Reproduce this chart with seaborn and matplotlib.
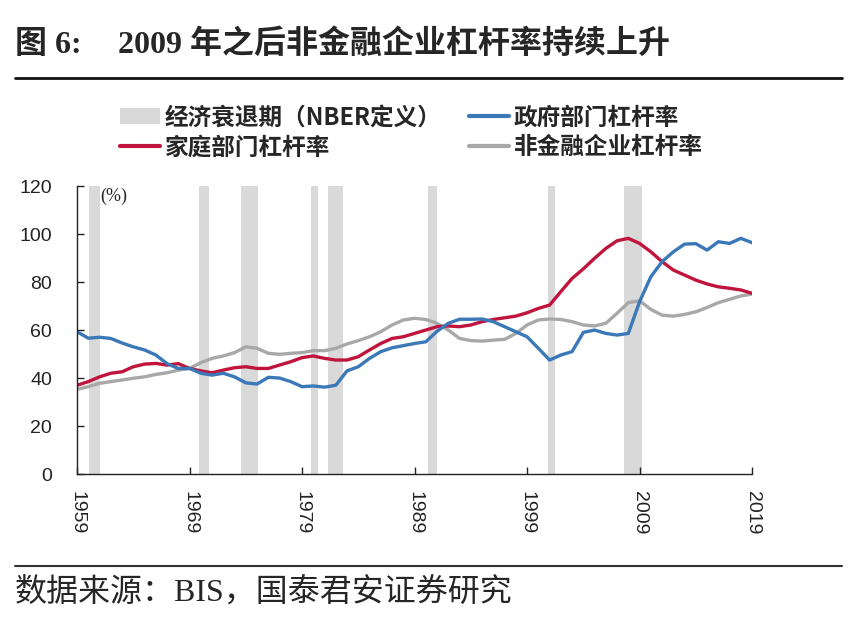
import pandas as pd
import matplotlib.pyplot as plt
import seaborn as sns
from matplotlib.lines import Line2D
from matplotlib.patches import Patch

years = list(range(1959, 2020))

gov = [59.3, 56.6, 57.0, 56.5, 54.6, 53.0, 51.7, 49.6, 46.0, 44.0,
       44.0, 42.0, 41.2, 42.0, 40.5, 38.0, 37.5, 40.3, 40.0, 38.5,
       36.4, 36.7, 36.2, 37.0, 43.0, 44.7, 48.2, 51.0, 52.6, 53.5,
       54.4, 55.1, 59.5, 62.8, 64.5, 64.5, 64.6, 63.5, 61.4, 59.3,
       57.2, 52.4, 47.5, 49.6, 51.0, 59.0, 60.0, 58.6, 57.9, 58.6,
       71.8, 82.2, 88.5, 92.6, 95.8, 96.0, 93.3, 96.8, 96.1, 98.2,
       96.4]

household = [37.0, 38.5, 40.5, 42.0, 42.6, 44.7, 45.8, 46.1, 45.4, 46.0,
             44.0, 43.0, 42.2, 43.3, 44.3, 44.7, 44.0, 44.0, 45.4, 46.8,
             48.5, 49.2, 48.2, 47.5, 47.5, 48.9, 51.7, 54.4, 56.5, 57.2,
             58.6, 60.0, 61.4, 61.7, 61.4, 62.1, 63.5, 64.4, 65.1, 65.8,
             67.2, 69.0, 70.4, 76.0, 81.5, 85.5, 89.9, 94.0, 97.2, 98.2,
             96.1, 92.6, 88.5, 85.0, 82.9, 80.8, 79.2, 78.0, 77.4, 76.7,
             75.3]

corp = [35.3, 36.4, 37.8, 38.5, 39.2, 39.9, 40.5, 41.5, 42.2, 43.3,
        44.0, 46.4, 48.2, 49.2, 50.6, 53.0, 52.4, 50.3, 49.9, 50.3,
        50.6, 51.4, 51.4, 52.4, 54.2, 55.6, 57.2, 59.3, 62.1, 64.2,
        64.9, 64.4, 62.8, 60.0, 56.5, 55.6, 55.4, 55.8, 56.1, 58.6,
        62.1, 64.2, 64.6, 64.4, 63.5, 62.1, 61.7, 62.8, 67.0, 71.4,
        72.2, 68.6, 66.2, 65.8, 66.5, 67.6, 69.4, 71.4, 72.8, 74.2,
        75.0]

recession_start = [1960.1, 1969.8, 1973.6, 1979.8, 1981.3, 1990.2, 2000.9, 2007.6]
recession_end = [1961.0, 1970.7, 1975.1, 1980.4, 1982.6, 1991.0, 2001.5, 2009.2]

series_names = ["政府部门杠杆率", "家庭部门杠杆率", "非金融企业杠杆率"]
colors = {"政府部门杠杆率": "#3A78B8", "家庭部门杠杆率": "#C0143C", "非金融企业杠杆率": "#A8A8A8"}
band_color = "#D9D9D9"
tick_labels = ["1959", "1969", "1979", "1989", "1999", "2009", "2019"]

df = pd.DataFrame({
    "year": years * 3,
    "value": gov + household + corp,
    "series": [series_names[0]] * len(years) + [series_names[1]] * len(years) + [series_names[2]] * len(years),
})

sns.set_style("ticks")
cjk = ["Noto Sans CJK SC", "DejaVu Sans"]
serif_cjk = ["Liberation Serif", "Noto Sans CJK SC"]
plt.rcParams["font.family"] = ["Liberation Sans", "Noto Sans CJK SC"]

fig = plt.figure(figsize=(8.56, 6.35), dpi=100)
ax = fig.add_axes([0.09, 0.2535, 0.7886, 0.4535])

# recession shading
for s, e in zip(recession_start, recession_end):
    ax.axvspan(s, e, color=band_color, lw=0, zorder=0)

sns.lineplot(data=df, x="year", y="value", hue="series",
             hue_order=[series_names[2], series_names[1], series_names[0]],
             palette=colors, linewidth=2.4, legend=False, ax=ax)

ax.set_xlim(1959, 2019)
ax.set_ylim(0, 120)
ax.set_yticks(range(0, 121, 20))
ax.set_xticks([int(t) for t in tick_labels])
ax.set_xticklabels(tick_labels, rotation=270)
ax.tick_params(axis="both", direction="in", length=5, width=1, labelsize=14, colors="#222222")
ax.tick_params(axis="y", pad=18)
ax.tick_params(axis="x", pad=12)
ax.set_xlabel("")
ax.set_ylabel("")
for side in ["top", "right"]:
    ax.spines[side].set_visible(False)
for side in ["left", "bottom"]:
    ax.spines[side].set_color("#222222")
    ax.spines[side].set_linewidth(1)

ax.text(0.035, 0.995, "(%)", transform=ax.transAxes, ha="left", va="top",
        fontsize=13, family=["Liberation Serif"])

handles = [
    Patch(facecolor=band_color, edgecolor="none", label="经济衰退期（NBER定义）"),
    Line2D([], [], color=colors[series_names[1]], lw=3, label=series_names[1]),
    Line2D([], [], color=colors[series_names[0]], lw=3, label=series_names[0]),
    Line2D([], [], color=colors[series_names[2]], lw=3, label=series_names[2]),
]
fig.legend(handles=handles, loc="upper left", bbox_to_anchor=(0.140, 0.834), ncol=2, frameon=False,
           prop={"family": cjk, "size": 17, "weight": "bold"}, handlelength=1.7, handleheight=0.7,
           handletextpad=0.2, columnspacing=1.15, labelspacing=0.25, borderpad=0, borderaxespad=0)

fig.text(15 / 856, 1 - 45 / 635, "图 6:", ha="left", va="center", fontsize=23, weight="bold",
         family=serif_cjk)
fig.text(118 / 856, 1 - 45 / 635, "2009 年之后非金融企业杠杆率持续上升", ha="left", va="center", fontsize=23,
         weight="bold", family=serif_cjk)
fig.add_artist(Line2D([15 / 856, 842 / 856], [1 - 78 / 635, 1 - 78 / 635], transform=fig.transFigure,
                      color="#111111", lw=2))
fig.add_artist(Line2D([15 / 856, 842 / 856], [1 - 566 / 635, 1 - 566 / 635], transform=fig.transFigure,
                      color="#333333", lw=1.5))
fig.text(15 / 856, 1 - 593 / 635, "数据来源：BIS，国泰君安证券研究", ha="left", va="center", fontsize=23,
         family=serif_cjk)

fig.savefig("out.png", dpi=100)
